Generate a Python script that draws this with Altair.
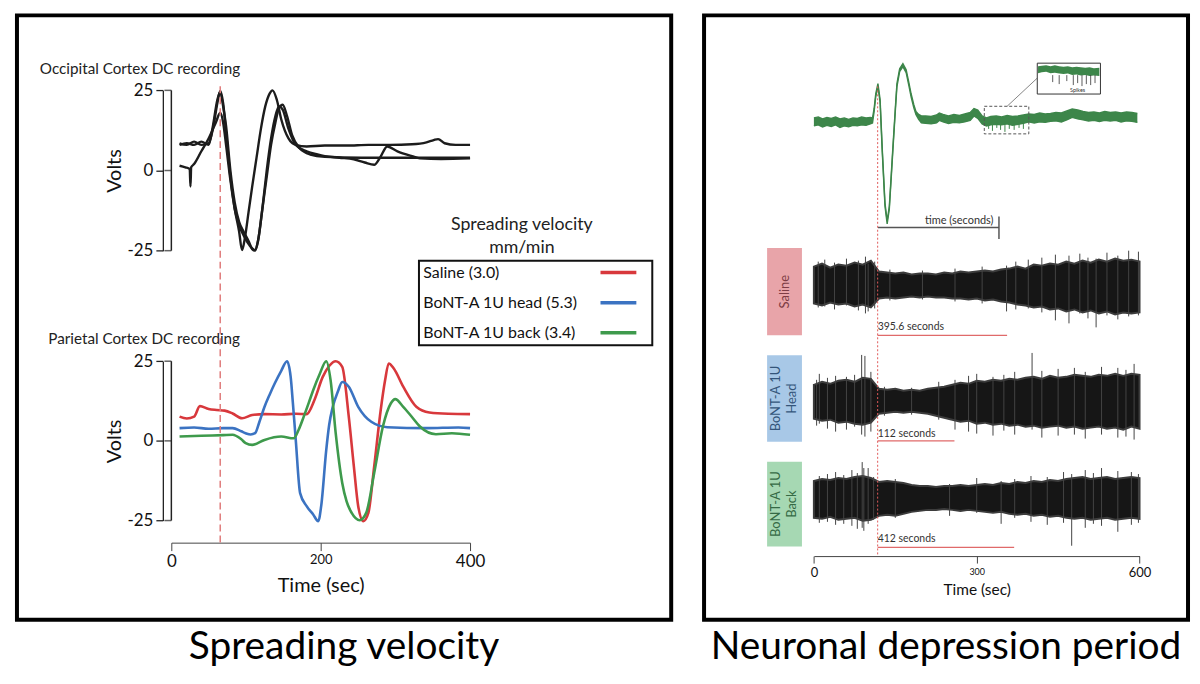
import altair as alt
import pandas as pd

FONT = "Lato"

# ------------------------------------------------------------------ data
# Occipital cortex DC recordings (three black traces): time (s), volts
occ_a_t = [0, 10, 20, 30, 40, 46, 52, 56, 60, 64, 70, 76, 82, 86, 90, 95, 100, 106, 112, 118, 124, 128, 134, 140, 150, 160, 175, 200, 230, 260, 290, 320, 340, 350, 356, 365, 380, 400]
occ_a_v = [8.5, 8, 9, 8, 8.5, 13, 21, 24.8, 21, 12, -2, -12, -19, -24.8, -21, -13, -5, 4, 13, 20, 24, 25, 22, 16, 10, 8, 7.5, 7.8, 7.8, 8, 8, 8.2, 8.8, 9.5, 9.8, 8.5, 8, 8]
occ_b_t = [0, 10, 20, 30, 40, 46, 52, 56, 60, 64, 70, 76, 82, 88, 95, 100, 104, 108, 114, 120, 126, 132, 137, 142, 150, 160, 175, 190, 200, 220, 240, 255, 268, 276, 286, 300, 320, 331, 360, 400]
occ_b_v = [8, 8.5, 8, 9, 8, 14, 22, 24.5, 20, 14, 0, -10, -16, -19, -22, -24.5, -25, -22, -12, 0, 10, 17, 20, 19, 13, 8, 6, 5, 4.5, 4, 3.5, 2.5, 1.8, 4, 7.5, 6, 4.5, 3.8, 3.6, 3.8]
occ_c_t = [0, 8, 14, 15, 16, 20, 30, 40, 50, 56, 60, 64, 70, 76, 82, 90, 97, 104, 108, 114, 120, 126, 132, 137, 142, 148, 155, 165, 180, 200, 250, 300, 350, 400]
occ_c_v = [1.5, 1, 0.5, -5, 1, 2, 6, 10, 15, 18, 15, 8, -3, -12, -17, -21, -23.5, -24.8, -22, -12, -2, 8, 15, 19.5, 20.5, 17, 11, 7, 5, 4.3, 4, 4, 4, 4]
volt_ticks = [-25, 0, 25]

# Parietal cortex DC recordings (coloured traces)
series = ["Saline (3.0)", "BoNT-A 1U head (5.3)", "BoNT-A 1U back  (3.4)"]
series_colors = ["#d8383c", "#3b73c2", "#3e9a4c"]
par_saline_t = [0, 10, 20, 28, 40, 51, 62, 73, 86, 100, 117, 140, 160, 175, 186, 197, 206, 215, 224, 233, 240, 246, 253, 260, 268, 277, 283, 288, 295, 308, 326, 344, 370, 400]
par_saline_v = [7.6, 7, 7.6, 10.9, 10, 9.7, 9.5, 8.6, 7.1, 8.1, 8.4, 8.3, 8.5, 8.4, 13, 20, 23.5, 25, 23.2, 7.6, -8, -20.5, -25.2, -22.6, -8, 9.7, 19, 24.3, 22.7, 17, 10.7, 8.9, 8.5, 8.4]
par_head_t = [0, 20, 40, 60, 73, 85, 91, 98, 104, 110, 117, 124, 131, 140, 148, 153, 156, 160, 166, 175, 184, 191, 195, 202, 206, 211, 218, 224, 233, 246, 264, 286, 340, 384, 400]
par_head_v = [4, 4.2, 3.8, 4, 4, 3, 2.4, 2, 2.4, 6, 10.7, 14.5, 18, 22, 25, 20.1, 12, 0.3, -16.4, -20.5, -23.1, -25.2, -20.5, -2.8, 5, 10.7, 15.5, 18.5, 17, 10.7, 6, 4.3, 4, 4.2, 4]
par_back_t = [0, 30, 60, 73, 85, 91, 100, 117, 140, 157, 164, 171, 178, 184, 193, 202, 208, 215, 224, 230, 237, 248, 257, 268, 280, 291, 297, 308, 320, 331, 353, 375, 400]
par_back_v = [1.35, 1.6, 1.8, 1.9, 0.5, -0.7, -1.25, 0.3, 1.35, 0.8, 3.5, 7.6, 12, 15.9, 21, 25, 19, 2.4, -13.2, -19, -22.6, -24.9, -22.6, -10.1, 4.5, 11.8, 13.1, 10.7, 7.5, 4.5, 2.1, 2.4, 1.9]
onset_left = 56

# Right panel: green DC trace (upper / lower edge of the noisy trace, a.u.)
green_t = [0, 8, 16, 24, 32, 40, 48, 56, 64, 72, 80, 88, 96, 104,
           108, 111, 114, 118, 122, 126, 131, 135, 139, 143, 146, 150, 153, 158, 164, 170, 175, 179, 184, 188, 193, 198,
           206, 216, 226, 231, 238, 248, 258, 268, 278, 288, 295, 302, 310, 318, 326, 336, 346, 356, 366, 376, 386, 396,
           406, 416, 426, 436, 446, 456, 466, 476, 486, 496, 506, 516, 526, 536, 546, 556, 566, 576, 586, 596]
green_hi = [4, 5, 3, 4.5, 3.5, 5, 3, 4, 2.5, 4, 3.5, 5, 4, 4.5,
            4, 13.5, 28.5, 38.5, 22.5, -27.5, -81.5, -99.5, -84.5, -48.5, -21.5, 13.5, 38.5, 53.5, 58.5, 52.5, 39.5, 28.5, 17.5, 10.5, 7.5, 6,
            6, 5.5, 7, 9, 7.5, 6, 7.5, 6.5, 8, 9.5, 13.5, 12, 6, 4, 5.5, 6, 5, 6.5, 5.5, 6, 7, 8,
            7.5, 9, 8, 8.5, 9.5, 9, 11, 13, 12, 10.5, 9.5, 10, 9, 10.5, 9.5, 10, 9, 10, 9.5, 8.5]
green_lo = [-4, -3, -5, -3.5, -4.5, -3, -5.5, -4, -5, -3.5, -4, -3, -3.5, -2,
            -1, 10.5, 25.5, 35.5, 19.5, -30.5, -84.5, -102.5, -87.5, -51.5, -24.5, 10.5, 35.5, 50.5, 55.5, 49.5, 36.5, 25.5, 14.5, 7.5, 2.5, -1,
            -1.5, -2, -1, 1.5, 0, -1.5, -0.5, -1, 0, 1.5, 6, 3.5, -2, -4, -3, -2.5, -3, -2, -3.5, -2.5, -1.5, 0,
            -1, 0, -0.5, 0.5, 1, 0, 2, 4.5, 3, 2, 1, 1.5, 0.5, 1.5, 1, 1.5, 0, 1, 0.5, -0.5]
green_spike_t = [322, 329, 337, 344, 352, 360, 369, 378, 386]
green_spike_tip = [-7, -9, -6, -8, -10, -7, -8, -6, -7]
zoom_box = {"t0": [314], "t1": [396], "u0": [15.7], "u1": [-12]}
connector = {"t0": [356], "t1": [411.6], "u0": [15.7], "u1": [44]}
inset_box = {"t0": [411.6], "t1": [528], "u0": [59], "u1": [28]}
inset_t = [413, 420, 428, 436, 444, 452, 460, 468, 476, 484, 492, 500, 508, 516, 526]
inset_hi = [56, 56.5, 57, 56, 57, 56, 55.5, 56, 55, 55.5, 55, 54.5, 55, 54, 54.5]
inset_lo = [49, 50, 50.5, 49, 49.5, 48.5, 48, 48.5, 47, 47.5, 46.5, 47, 46, 46.5, 46]
inset_spike_t = [440, 452, 466, 478, 486, 494, 502, 510, 518]
inset_spike_tip = [40, 38, 41, 37, 39, 36, 38, 37, 39]
timebar = {"t0": [118], "t1": [341], "u": [-106]}
timebar_tick = {"t": [341], "u0": [-95], "u1": [-117.6]}
onset_right = 117.5

# Right panel: multi-unit activity bands (body envelope, a.u.)
band_t = [0, 15, 30, 45, 60, 75, 90, 105, 120, 135, 150, 165, 180, 195, 210, 225, 240, 255, 270, 285, 300,
          315, 330, 345, 360, 375, 390, 405, 420, 435, 450, 465, 480, 495, 510, 525, 540, 555, 570, 585, 600]
saline_hi = [19, 22, 18, 21, 20, 23, 21, 25, 14, 13, 12, 13, 11, 12, 12, 11, 13, 12, 14, 13, 14, 15, 14, 16, 17, 19, 17, 21, 20, 22, 21, 24, 22, 25, 23, 26, 24, 27, 25, 26, 24]
saline_lo = [-18, -20, -17, -19, -18, -21, -19, -22, -13, -12, -13, -12, -11, -12, -11, -12, -12, -13, -13, -14, -13, -15, -14, -16, -17, -19, -20, -22, -21, -24, -23, -26, -24, -27, -25, -28, -26, -29, -27, -28, -27]
head_hi = [17, 20, 18, 21, 22, 20, 24, 23, 13, 12, 13, 11, 12, 11, 13, 14, 15, 17, 19, 18, 21, 20, 22, 21, 23, 22, 24, 25, 23, 26, 24, 25, 27, 26, 25, 27, 26, 28, 26, 28, 27]
head_lo = [-17, -19, -18, -21, -20, -22, -23, -21, -12, -11, -10, -11, -10, -11, -12, -14, -16, -18, -20, -19, -22, -21, -23, -22, -24, -23, -25, -24, -26, -25, -24, -26, -25, -27, -26, -25, -27, -26, -28, -25, -27]
back_hi = [17, 19, 18, 20, 19, 21, 22, 20, 16, 17, 16, 15, 13, 12, 12, 11, 12, 12, 13, 12, 13, 14, 13, 15, 14, 16, 15, 17, 16, 18, 17, 19, 20, 21, 19, 20, 21, 19, 20, 21, 20]
back_lo = [-20, -21, -19, -22, -21, -20, -23, -22, -18, -17, -18, -16, -14, -13, -12, -12, -11, -12, -13, -12, -13, -14, -15, -14, -16, -17, -16, -18, -17, -19, -18, -20, -21, -20, -22, -21, -20, -22, -21, -20, -21]
saline_sp_t = [8, 20, 38, 60, 82, 95, 100, 112, 140, 200, 260, 310, 355, 372, 395, 420, 445, 470, 490, 505, 520, 540, 560, 580, 598]
saline_sp_hi = [24, 26, 23, 27, 25, 29, 22, 24, 16, 15, 17, 19, 20, 24, 26, 28, 31, 30, 32, 28, 27, 33, 30, 35, 34]
saline_sp_lo = [-22, -21, -24, -20, -25, -28, -26, -23, -15, -14, -16, -18, -26, -24, -23, -27, -35, -38, -28, -33, -42, -30, -34, -31, -30]
head_sp_t = [5, 10, 25, 40, 60, 75, 88, 94, 105, 130, 180, 230, 260, 285, 300, 330, 350, 370, 402, 420, 450, 480, 500, 530, 560, 575, 590]
head_sp_hi = [22, 28, 24, 26, 25, 27, 47, 46, 30, 15, 14, 20, 22, 26, 28, 25, 27, 30, 49, 31, 33, 34, 30, 35, 34, 32, 38]
head_sp_lo = [-24, -22, -27, -30, -28, -25, -33, -35, -30, -14, -13, -18, -28, -30, -32, -34, -29, -33, -28, -36, -34, -33, -37, -33, -36, -35, -38]
back_sp_t = [10, 25, 40, 55, 70, 80, 89, 92, 100, 110, 150, 250, 300, 345, 370, 400, 430, 460, 475, 500, 515, 530, 560, 585, 598]
back_sp_hi = [22, 24, 26, 23, 28, 25, 36, 30, 30, 21, 19, 14, 20, 17, 19, 22, 21, 26, 24, 28, 25, 30, 27, 26, 24]
back_sp_lo = [-25, -24, -27, -26, -28, -31, -30, -33, -26, -22, -20, -18, -15, -26, -20, -24, -27, -25, -48, -30, -26, -28, -34, -27, -25]

band_names = ["Saline", "BoNT-A 1U\nHead", "BoNT-A 1U\nBack"]
band_box_colors = ["#e8a4a9", "#a8c8e7", "#a6d8b3"]
band_text_colors = ["#7d3c45", "#34557a", "#356a45"]
band_box_top = [37.7, 46.7, 36.3]
band_box_bottom = [-50, -40.3, -48.7]
depression_labels = ["395.6 seconds", "112 seconds", "412 seconds"]
depression_end = [356, 259, 369]
depression_bar_u = [-50, -39.3, -49.7]
depression_text_u = [-42, -32.3, -41.4]

# ------------------------------------------------------------------ layout constants (pixels inside each framed panel)
H = 607
W_LEFT = 657
W_RIGHT = 486
AXIS_X = 146.5
AXIS_T = -11.3          # time position of the Volts axis line on the left time scale
TOP_RANGE = [236.3, 75.3]
BOT_RANGE = [507.3, 347.3]


def lin(domain, rng):
    return alt.Scale(domain=domain, range=rng, nice=False, zero=False)


# ================================================================== LEFT PANEL
xs_l = lin([-20, 400], [148.7, 455])
ys_top = lin([-25, 25], TOP_RANGE)
ys_bot = lin([-25, 25], BOT_RANGE)
cs = alt.Scale(domain=series, range=series_colors)


def volts_axis():
    return alt.Axis(orient="left", offset=-AXIS_X, values=volt_ticks, title="Volts",
                    titleFontSize=20, titleFontWeight="normal", titleColor="#111",
                    labelFontSize=17, labelColor="#111", domain=True, ticks=True,
                    tickSize=7, tickColor="#222", domainColor="#222", domainWidth=1.3, tickWidth=1.3,
                    labelPadding=3, titlePadding=2, grid=False,
                    labelExpr="'' + datum.value")


def axis_lines(ys):
    dom_df = pd.DataFrame({"t": [AXIS_T], "v0": [volt_ticks[0]], "v1": [volt_ticks[-1]]})
    dom = alt.Chart(dom_df).mark_rule(color="#222", strokeWidth=1.5).encode(
        x=alt.X("t:Q", scale=xs_l, axis=None), y=alt.Y("v0:Q", scale=ys, axis=None), y2="v1:Q")
    tick_df = pd.DataFrame({"t": [AXIS_T] * 3, "v": volt_ticks})
    ticks = alt.Chart(tick_df).mark_tick(color="#222", thickness=1.5, size=7, orient="horizontal",
                                         xOffset=-3.5).encode(
        x=alt.X("t:Q", scale=xs_l, axis=None), y=alt.Y("v:Q", scale=ys, axis=None))
    return [dom, ticks]


top_df = pd.concat([
    pd.DataFrame({"t": occ_a_t, "v": occ_a_v, "trace": "a"}),
    pd.DataFrame({"t": occ_b_t, "v": occ_b_v, "trace": "b"}),
    pd.DataFrame({"t": occ_c_t, "v": occ_c_v, "trace": "c"}),
])
bot_df = pd.concat([
    pd.DataFrame({"t": par_saline_t, "v": par_saline_v, "series": series[0]}),
    pd.DataFrame({"t": par_head_t, "v": par_head_v, "series": series[1]}),
    pd.DataFrame({"t": par_back_t, "v": par_back_v, "series": series[2]}),
])

left_top = alt.Chart(top_df).mark_line(color="#1c1c1c", strokeWidth=2.4, interpolate="monotone").encode(
    x=alt.X("t:Q", scale=xs_l, axis=None),
    y=alt.Y("v:Q", scale=ys_top, axis=volts_axis()),
    detail="trace:N",
)

left_bot = alt.Chart(bot_df).mark_line(strokeWidth=2.6, interpolate="monotone").encode(
    x=alt.X("t:Q", scale=xs_l, axis=None),
    y=alt.Y("v:Q", scale=ys_bot, axis=volts_axis()),
    color=alt.Color("series:N", scale=cs, legend=None),
    detail="series:N",
)

xs_time = lin([0, 400], [155, 455])
time_axis = alt.Chart(pd.DataFrame({"t": [0, 400]})).mark_point(opacity=0).encode(
    x=alt.X("t:Q", scale=xs_time, axis=alt.Axis(
        orient="bottom", offset=-77.5, values=[0, 200, 400], title="Time (sec)",
        titleFontSize=20, titleFontWeight="normal", titleColor="#111",
        labelFontSize={"condition": {"test": "datum.value == 200", "value": 13}, "value": 17},
        labelColor="#111", tickSize=8, labelPadding=3, titlePadding=6,
        domainColor="#444", tickColor="#444", grid=False, labelFlush=False)),
    y=alt.value(500))

left_dash = alt.Chart(pd.DataFrame({"t": [onset_left]})).mark_rule(
    color="#e07c7c", strokeDash=[7, 4], strokeWidth=1.5).encode(
    x=alt.X("t:Q", scale=xs_l, axis=None), y=alt.value(71.3), y2=alt.value(529.3))

occ_title = alt.Chart(pd.DataFrame({"label": ["Occipital Cortex DC recording"]})).mark_text(
    align="left", baseline="alphabetic", fontSize=15.3, color="#222").encode(
    x=alt.value(23), y=alt.value(58.8), text="label:N")
par_title = alt.Chart(pd.DataFrame({"label": ["Parietal Cortex DC recording"]})).mark_text(
    align="left", baseline="alphabetic", fontSize=15.3, color="#222").encode(
    x=alt.value(31.5), y=alt.value(329.6), text="label:N")

leg_df = pd.DataFrame({"series": series})
leg_y = alt.Scale(type="point", domain=series, range=[258.3, 318.8], padding=0)
leg_box = alt.Chart(pd.DataFrame({"k": [1]})).mark_rect(fillOpacity=0, stroke="#111", strokeWidth=2).encode(
    x=alt.value(403.7), x2=alt.value(638), y=alt.value(246.3), y2=alt.value(331.3))
leg_title = alt.Chart(pd.DataFrame({"label": ["Spreading velocity\nmm/min"]})).mark_text(
    align="center", baseline="alphabetic", fontSize=17.8, lineHeight=23, lineBreak="\n",
    color="#222").encode(x=alt.value(507), y=alt.value(215.3), text="label:N")
leg_text = alt.Chart(leg_df).mark_text(align="left", baseline="middle", fontSize=16, color="#111").encode(
    x=alt.value(408), y=alt.Y("series:N", scale=leg_y, axis=None), text="series:N")
leg_sw = alt.Chart(leg_df).mark_rule(strokeWidth=3.5).encode(
    x=alt.value(586), x2=alt.value(622), y=alt.Y("series:N", scale=leg_y, axis=None),
    color=alt.Color("series:N", scale=cs, legend=None))

left_panel = alt.layer(
    occ_title, par_title, left_top, left_bot, time_axis, left_dash,
    leg_box, leg_title, leg_text, leg_sw, *axis_lines(ys_top), *axis_lines(ys_bot)
).resolve_scale(x="independent", y="independent").properties(
    width=W_LEFT, height=H,
    title=alt.TitleParams("Spreading velocity", orient="bottom", fontSize=39, font=FONT,
                          fontWeight="normal", color="#000", offset=8, anchor="middle"))

# ================================================================== RIGHT PANEL
xs_r = lin([0, 600], [110.3, 437.3])
ys_g = lin([-100, 60], [207, 47])

gX = lambda f: alt.X(f, scale=xs_r, axis=None)
gY = lambda f: alt.Y(f, scale=ys_g, axis=None)
GREEN = "#3d864a"

green_df = pd.DataFrame({"t": green_t, "hi": green_hi, "lo": green_lo})
g_area = alt.Chart(green_df).mark_area(color=GREEN, opacity=1).encode(
    x=gX("t:Q"), y=gY("hi:Q"), y2="lo:Q")
g_edge_hi = alt.Chart(green_df).mark_line(color=GREEN, strokeWidth=1.4).encode(
    x=gX("t:Q"), y=gY("hi:Q"))
g_edge_lo = alt.Chart(green_df).mark_line(color=GREEN, strokeWidth=1.4).encode(
    x=gX("t:Q"), y=gY("lo:Q"))
g_spk = alt.Chart(pd.DataFrame({"t": green_spike_t, "tip": green_spike_tip})).mark_rule(
    color=GREEN, strokeWidth=1).encode(x=gX("t:Q"), y=gY("tip:Q"), y2=alt.datum(0))
g_zoom = alt.Chart(pd.DataFrame(zoom_box)).mark_rect(
    fillOpacity=0, stroke="#555", strokeDash=[3, 2], strokeWidth=1).encode(
    x=gX("t0:Q"), x2="t1:Q", y=gY("u0:Q"), y2="u1:Q")
g_conn = alt.Chart(pd.DataFrame(connector)).mark_rule(color="#666", strokeWidth=0.8).encode(
    x=gX("t0:Q"), x2="t1:Q", y=gY("u0:Q"), y2="u1:Q")
g_inset = alt.Chart(pd.DataFrame(inset_box)).mark_rect(
    fill="white", stroke="#333", strokeWidth=1).encode(
    x=gX("t0:Q"), x2="t1:Q", y=gY("u0:Q"), y2="u1:Q")
g_inset_band = alt.Chart(pd.DataFrame({"t": inset_t, "hi": inset_hi, "lo": inset_lo})).mark_area(
    color=GREEN).encode(x=gX("t:Q"), y=gY("hi:Q"), y2="lo:Q")
g_inset_spk = alt.Chart(pd.DataFrame({"t": inset_spike_t, "tip": inset_spike_tip})).mark_rule(
    color="#333", strokeWidth=0.8).encode(x=gX("t:Q"), y=gY("tip:Q"), y2=alt.datum(47))
g_inset_txt = alt.Chart(pd.DataFrame({"t": [486], "u": [32.4], "label": ["Spikes"]})).mark_text(
    fontSize=5.5, color="#333", baseline="middle").encode(x=gX("t:Q"), y=gY("u:Q"), text="label:N")
g_bar = alt.Chart(pd.DataFrame(timebar)).mark_rule(color="#555", strokeWidth=1.5).encode(
    x=gX("t0:Q"), x2="t1:Q", y=gY("u:Q"))
g_bar_tick = alt.Chart(pd.DataFrame(timebar_tick)).mark_rule(color="#555", strokeWidth=1.5).encode(
    x=gX("t:Q"), y=gY("u0:Q"), y2="u1:Q")
g_bar_txt = alt.Chart(pd.DataFrame({"t": [331], "u": [-100], "label": ["time (seconds)"]})).mark_text(
    align="right", baseline="middle", fontSize=11, color="#333").encode(
    x=gX("t:Q"), y=gY("u:Q"), text="label:N")

green_group = alt.layer(g_area, g_edge_hi, g_edge_lo, g_spk, g_zoom, g_conn, g_inset, g_inset_band,
                        g_inset_spk, g_inset_txt, g_bar, g_bar_tick, g_bar_txt)


def band_group(i, hi, lo, sp_t, sp_hi, sp_lo, center):
    ys = lin([-50, 50], [center + 50, center - 50])
    bY = lambda f: alt.Y(f, scale=ys, axis=None)
    body = alt.Chart(pd.DataFrame({"t": band_t, "hi": hi, "lo": lo})).mark_area(
        color="#161616", stroke="#3c3c3c", strokeWidth=2).encode(x=gX("t:Q"), y=bY("hi:Q"), y2="lo:Q")
    spikes = alt.Chart(pd.DataFrame({"t": sp_t, "hi": sp_hi, "lo": sp_lo})).mark_rule(
        color="#444", strokeWidth=1).encode(x=gX("t:Q"), y=bY("hi:Q"), y2="lo:Q")
    box = alt.Chart(pd.DataFrame({"top": [band_box_top[i]], "bot": [band_box_bottom[i]]})).mark_rect(
        color=band_box_colors[i]).encode(x=alt.value(63.3), x2=alt.value(98.3), y=bY("top:Q"), y2="bot:Q")
    label_x = 80.8 if "\n" not in band_names[i] else 72.6
    label = alt.Chart(pd.DataFrame({
        "mid": [(band_box_top[i] + band_box_bottom[i]) / 2], "name": [band_names[i]]})).mark_text(
        angle=270, fontSize=13, lineBreak="\n", lineHeight=16, color=band_text_colors[i],
        align="center", baseline="middle").encode(x=alt.value(label_x), y=bY("mid:Q"), text="name:N")
    bar = alt.Chart(pd.DataFrame({"t0": [onset_right], "t1": [depression_end[i]],
                                  "u": [depression_bar_u[i]]})).mark_rule(
        color="#e06a6a", strokeWidth=1.2).encode(x=gX("t0:Q"), x2="t1:Q", y=bY("u:Q"))
    bar_txt = alt.Chart(pd.DataFrame({"t": [onset_right], "u": [depression_text_u[i]],
                                      "label": [depression_labels[i]]})).mark_text(
        align="left", baseline="middle", fontSize=10.5, color="#333").encode(
        x=gX("t:Q"), y=bY("u:Q"), text="label:N")
    return alt.layer(body, spikes, box, label, bar, bar_txt)


saline_group = band_group(0, saline_hi, saline_lo, saline_sp_t, saline_sp_hi, saline_sp_lo, 271.3)
head_group = band_group(1, head_hi, head_lo, head_sp_t, head_sp_hi, head_sp_lo, 388.0)
back_group = band_group(2, back_hi, back_lo, back_sp_t, back_sp_hi, back_sp_lo, 484.6)

right_axis_layer = alt.Chart(pd.DataFrame({"t": [onset_right]})).mark_rule(
    color="#e05a5a", strokeDash=[2, 2], strokeWidth=1).encode(
    x=alt.X("t:Q", scale=xs_r, axis=alt.Axis(
        orient="bottom", offset=-64, values=[0, 300, 600], title="Time (sec)",
        titleFontSize=15.5, titleFontWeight="normal", titleColor="#111",
        labelFontSize={"condition": {"test": "datum.value == 300", "value": 9}, "value": 13},
        labelColor="#111", tickSize=7, labelPadding=4, titlePadding=3,
        domainColor="#444", tickColor="#444", grid=False, labelFlush=False)),
    y=alt.value(71.3), y2=alt.value(543))

right_panel = alt.layer(
    green_group, saline_group, head_group, back_group, right_axis_layer
).resolve_scale(x="independent", y="independent").properties(
    width=W_RIGHT, height=H,
    title=alt.TitleParams("Neuronal depression period", orient="bottom", fontSize=39, font=FONT,
                          fontWeight="normal", color="#000", offset=8, anchor="middle"))

chart = alt.hconcat(left_panel, right_panel, spacing=29).properties(
    padding={"left": 7, "top": 4, "right": 2, "bottom": 2}
).configure(font=FONT).configure_view(stroke="#000", strokeWidth=4)

chart.save("out.html", embed_options={"renderer": "svg", "actions": False})
